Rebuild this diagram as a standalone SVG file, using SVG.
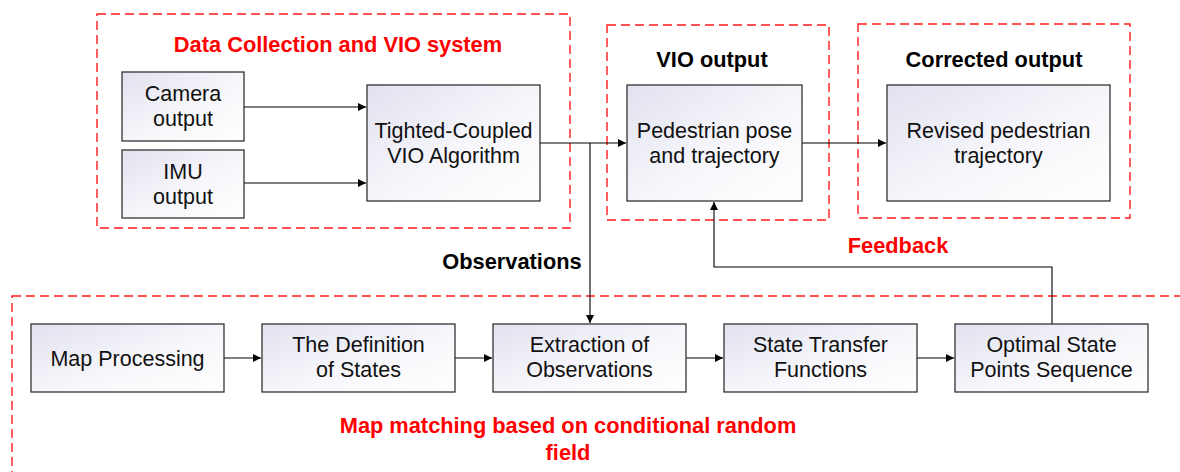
<svg xmlns="http://www.w3.org/2000/svg" width="1180" height="472" viewBox="0 0 1180 472">
<defs>
<linearGradient id="g" x1="0" y1="0" x2="1" y2="1">
<stop offset="0" stop-color="#e2e2f0"/>
<stop offset="0.6" stop-color="#f8f8fc"/>
<stop offset="1" stop-color="#ffffff"/>
</linearGradient>
<marker id="arr" viewBox="0 0 10 10" refX="10" refY="5" markerWidth="8" markerHeight="8" markerUnits="userSpaceOnUse" orient="auto">
<path d="M0,0 L10,5 L0,10 z" fill="#000"/>
</marker>
</defs>
<style>
.node{fill:url(#g);stroke:#333;stroke-width:1.3}
.grp{fill:none;stroke:#ff1a1a;stroke-width:1.4;stroke-dasharray:9,5}
.t{font-family:"Liberation Sans",Arial,sans-serif;font-size:21.5px;fill:#111;text-anchor:middle}
.h{font-family:"Liberation Sans",Arial,sans-serif;font-size:21.8px;font-weight:bold;text-anchor:middle}
.red{fill:#ff0000}
.blk{fill:#000}
.c{fill:none;stroke:#000;stroke-width:1.1}
</style>
<rect width="1180" height="472" fill="#fff"/>
<g id="groups">
<rect class="grp" x="97" y="14" width="473" height="214"/>
<rect class="grp" x="607" y="25" width="222" height="195"/>
<rect class="grp" x="858" y="24" width="272" height="194"/>
<rect class="grp" x="12" y="296" width="1180" height="200"/>
<text class="h red" x="338" y="52">Data Collection and VIO system</text>
<text class="h blk" x="712" y="67">VIO output</text>
<text class="h blk" x="994" y="67">Corrected output</text>
<text class="h red" x="568" y="433">Map matching based on conditional random</text>
<text class="h red" x="568" y="460">field</text>
</g>
<g id="connectors">
<line class="c" x1="244" y1="107" x2="366" y2="107" marker-end="url(#arr)"/>
<line class="c" x1="244" y1="183" x2="366" y2="183" marker-end="url(#arr)"/>
<line class="c" x1="540" y1="143" x2="626" y2="143" marker-end="url(#arr)"/>
<line class="c" x1="590" y1="143" x2="590" y2="323" marker-end="url(#arr)"/>
<line class="c" x1="802" y1="143" x2="886" y2="143" marker-end="url(#arr)"/>
<polyline class="c" points="1052,324 1052,267 714,267 714,202" marker-end="url(#arr)"/>
<line class="c" x1="224" y1="358" x2="261" y2="358" marker-end="url(#arr)"/>
<line class="c" x1="455" y1="358" x2="492" y2="358" marker-end="url(#arr)"/>
<line class="c" x1="686" y1="358" x2="723" y2="358" marker-end="url(#arr)"/>
<line class="c" x1="917" y1="358" x2="954" y2="358" marker-end="url(#arr)"/>
<text class="h blk" x="512" y="269">Observations</text>
<text class="h red" x="898" y="253">Feedback</text>
</g>
<g id="camera">
<rect class="node" x="122" y="72" width="122" height="69"/>
<text class="t" x="183" y="101">Camera</text>
<text class="t" x="183" y="126">output</text>
</g>
<g id="imu">
<rect class="node" x="122" y="150" width="122" height="68"/>
<text class="t" x="183" y="179">IMU</text>
<text class="t" x="183" y="204">output</text>
</g>
<g id="vio">
<rect class="node" x="367" y="85" width="173" height="116"/>
<text class="t" x="453.5" y="138">Tighted-Coupled</text>
<text class="t" x="453.5" y="163">VIO Algorithm</text>
</g>
<g id="pedestrian">
<rect class="node" x="627" y="85" width="175" height="116"/>
<text class="t" x="714.5" y="138">Pedestrian pose</text>
<text class="t" x="714.5" y="163">and trajectory</text>
</g>
<g id="revised">
<rect class="node" x="887" y="85" width="223" height="116"/>
<text class="t" x="998.5" y="138">Revised pedestrian</text>
<text class="t" x="998.5" y="163">trajectory</text>
</g>
<g id="map">
<rect class="node" x="31" y="324" width="193" height="68"/>
<text class="t" x="127.5" y="365.5">Map Processing</text>
</g>
<g id="definition">
<rect class="node" x="262" y="324" width="193" height="68"/>
<text class="t" x="358.5" y="352">The Definition</text>
<text class="t" x="358.5" y="377">of States</text>
</g>
<g id="extraction">
<rect class="node" x="493" y="324" width="193" height="68"/>
<text class="t" x="589.5" y="352">Extraction of</text>
<text class="t" x="589.5" y="377">Observations</text>
</g>
<g id="transfer">
<rect class="node" x="724" y="324" width="193" height="68"/>
<text class="t" x="820.5" y="352">State Transfer</text>
<text class="t" x="820.5" y="377">Functions</text>
</g>
<g id="optimal">
<rect class="node" x="955" y="324" width="193" height="68"/>
<text class="t" x="1051.5" y="352">Optimal State</text>
<text class="t" x="1051.5" y="377">Points Sequence</text>
</g>
</svg>
